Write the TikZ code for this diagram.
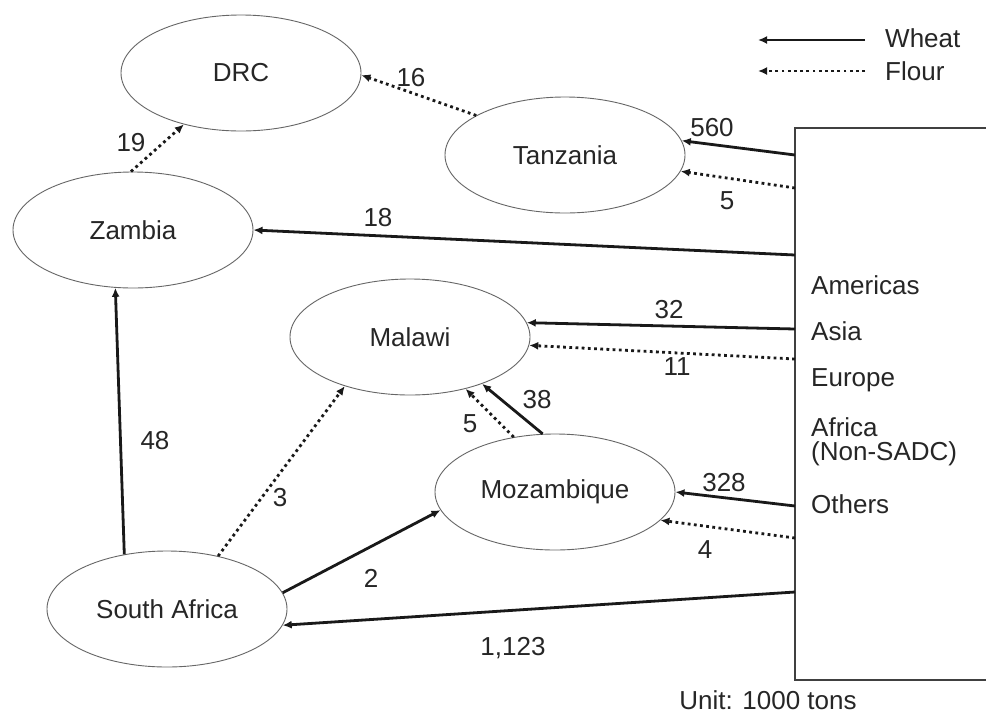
\documentclass[tikz,border=0pt]{standalone}
\usepackage{fontspec}
\setmainfont{Liberation Sans}
\usetikzlibrary{shapes.geometric,arrows.meta}
\newcommand\myfs{\fontsize{26}{31}\selectfont}
\begin{document}
\begin{tikzpicture}[x=1pt,y=-1pt,
  country/.style={ellipse, draw=black!60, line width=0.9pt, minimum width=240pt, minimum height=116pt, inner sep=0pt, font=\myfs, text=black!85},
  wheat/.style={line width=2.8pt, black!90, -{Latex[length=9pt,width=8pt]}},
  flour/.style={line width=2.8pt, black!90, dash pattern=on 2.8pt off 3.4pt, -{Latex[length=9pt,width=8pt]}},
  lbl/.style={font=\myfs, inner sep=0pt, text=black!85},
  boxtxt/.style={font=\myfs, inner sep=0pt, text=black!85, anchor=west}]
\useasboundingbox (0,0) rectangle (986,716);
\fill[white] (0,0) rectangle (986,716);

% countries
\node[country] (drc) at (241,73) {DRC};
\node[country] (tz) at (565,155) {Tanzania};
\node[country] (zm) at (133,230) {Zambia};
\node[country] (mw) at (410,337) {Malawi};
\node[country] (mz) at (555,492) {Mozambique};
\node[country] (sa) at (167,609) {South Africa};

% box of other regions
\draw[black!75, line width=1.2pt] (986,128) -- (795,128) -- (795,680) -- (986,680);
\node[boxtxt] (am) at (811,285) {Americas};
\node[boxtxt] (as) at (811,331) {Asia};
\node[boxtxt] (eu) at (811,380) {Europe};
\node[boxtxt] (af) at (811,427) {Africa};
\node[boxtxt] (ns) at (811,454) {(Non-SADC)};
\node[boxtxt] (ot) at (811,504) {Others};

% free ends on the box edge
\coordinate (bTw) at (795,155);
\coordinate (bTf) at (795,188);
\coordinate (bZw) at (795,255);
\coordinate (bMw) at (795,329);
\coordinate (bMf) at (795,359);
\coordinate (bQw) at (795,506);
\coordinate (bQf) at (795,538);
\coordinate (bSw) at (795,592);

% imports from the box
\draw[wheat] (bTw) -- (tz.7);
\draw[flour] (bTf) -- (tz.-8);
\draw[wheat] (bZw) -- (zm.0);
\draw[wheat] (bMw) -- (mw.7);
\draw[flour] (bMf) -- (mw.-4);
\draw[wheat] (bQw) -- (mz.0);
\draw[flour] (bQf) -- (mz.-15);
\draw[wheat] (bSw) -- (sa.-8);

% regional flows
\draw[flour] (zm.92) -- (drc.-138);
\draw[flour] (tz.156) -- (drc.-1);
\draw[wheat] (mz.102) -- (mw.-33);
\draw[flour] (mz.127) -- (mw.-43);
\draw[flour] (sa.46) -- (mw.217);
\draw[wheat] (sa.8) -- (mz.189);
\draw[wheat] (sa.128) -- (zm.-107);

% flow labels
\node[lbl] (l560) at (712,128) {560};
\node[lbl] (l5a) at (727,201) {5};
\node[lbl] (l18) at (378,218) {18};
\node[lbl] (l16) at (411,78) {16};
\node[lbl] (l19) at (131,143) {19};
\node[lbl] (l32) at (669,310) {32};
\node[lbl] (l11) at (677,367) {11};
\node[lbl] (l38) at (537,400) {38};
\node[lbl] (l5b) at (470,424) {5};
\node[lbl] (l48) at (155,441) {48};
\node[lbl] (l3) at (280,498) {3};
\node[lbl] (l328) at (724,483) {328};
\node[lbl] (l4) at (705,550) {4};
\node[lbl] (l2) at (371,578) {2};
\node[lbl] (l1123) at (513,648) {1,123};
\node[lbl] (unit) at (768,700) {Unit: 1000 tons};

% legend
\coordinate (lgw1) at (865,40);
\coordinate (lgw2) at (758,40);
\coordinate (lgf1) at (865,71);
\coordinate (lgf2) at (758,71);
\draw[wheat] (lgw1) -- (lgw2);
\draw[flour] (lgf1) -- (lgf2);
\node[boxtxt] (lwheat) at (885,38) {Wheat};
\node[boxtxt] (lflour) at (885,71) {Flour};
\end{tikzpicture}
\end{document}
